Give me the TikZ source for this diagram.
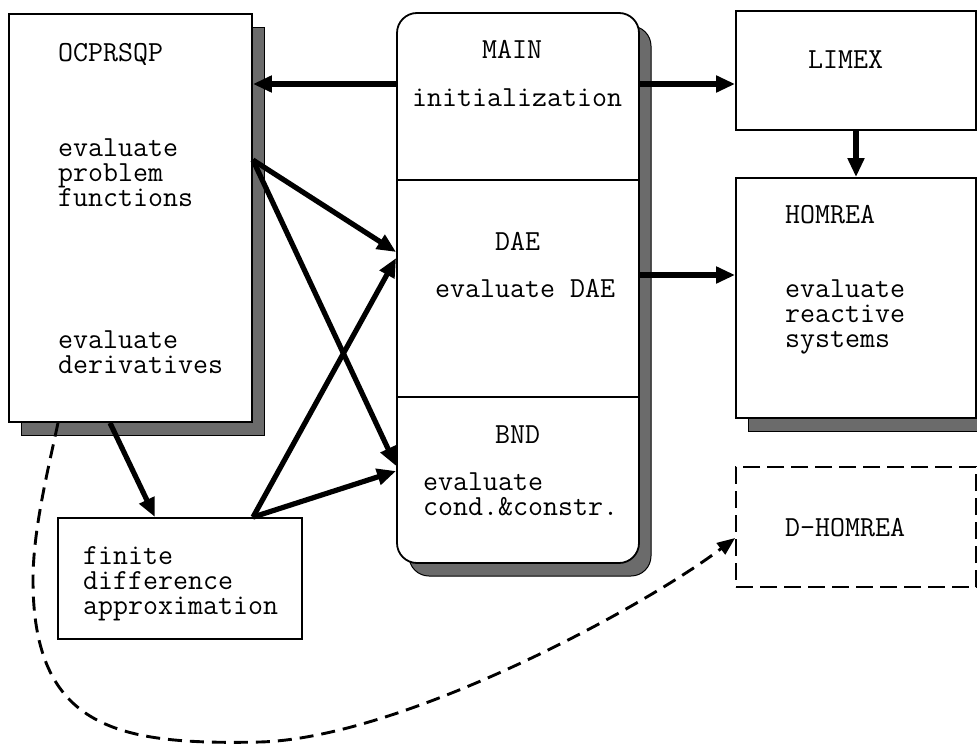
\documentclass[tikz,border=0pt]{standalone}
\usetikzlibrary{arrows.meta,shadows}
\newcommand{\stk}[1]{\vtop{\baselineskip=25pt\lineskiplimit=-100pt\lineskip=0pt #1}}
\begin{document}
\begin{tikzpicture}[x=1pt,y=-1pt,
  box/.style={draw=black,line width=1.8pt,fill=white,inner sep=0pt},
  shbox/.style={box,drop shadow={shadow xshift=12pt,shadow yshift=-13pt,fill=black!58,draw=black,line width=1pt,opacity=1}},
  lbl/.style={anchor=base west,inner sep=0pt,font=\ttfamily\fontsize{29.1}{25}\selectfont},
  arr/.style={line width=5.2pt,-{Triangle[length=19pt,width=16pt]}},
  darr/.style={line width=2.9pt,dash pattern=on 14pt off 8pt,-{Triangle[length=18pt,width=14pt]}},
  dbox/.style={draw=black,line width=1.7pt,dash pattern=on 17pt off 7pt,fill=white,inner sep=0pt},
]
\useasboundingbox (0,0) rectangle (977,744);

% boxes
\node[shbox,minimum width=243pt,minimum height=408pt] (ocp) at (130.5,218) {};
\node[shbox,rounded corners=20pt,minimum width=242pt,minimum height=550pt] (main) at (518,288) {};
\node[box,minimum width=240pt,minimum height=119pt] (limex) at (856,70.5) {};
\node[shbox,minimum width=240pt,minimum height=240pt] (homrea) at (856,298) {};
\node[dbox,minimum width=240pt,minimum height=120pt] (dhom) at (856,527) {};
\node[box,minimum width=244pt,minimum height=121pt] (fd) at (180,578.5) {};

% helper coordinates
\coordinate (h180) at (0,180);
\coordinate (h397) at (0,397);
\coordinate (h84) at (0,84);
\coordinate (h275) at (0,275);
\coordinate (h160) at (0,160);
\coordinate (h252) at (0,252);
\coordinate (h258) at (0,258);
\coordinate (h466) at (0,466);
\coordinate (h471) at (0,471);
\coordinate (h538) at (0,538);
\coordinate (v58) at (58,0);
\coordinate (v110) at (110,0);
\coordinate (v155) at (155,0);
\coordinate (v253) at (253,0);

% dividers in MAIN
\draw[line width=1.5pt] (main.west |- h180) -- (main.east |- h180);
\draw[line width=1.5pt] (main.west |- h397) -- (main.east |- h397);

% texts
\node[lbl] (t1) at (58,61) {OCPRSQP};
\node[lbl] (t2) at (58,156) {\stk{\hbox{evaluate}\hbox{problem}\hbox{functions}}};
\node[lbl] (t5) at (58,348) {\stk{\hbox{evaluate}\hbox{derivatives}}};

\node[lbl] (m1) at (482,58) {MAIN};
\node[lbl] (m2) at (412,106) {initialization};
\node[lbl] (m3) at (495,250) {DAE};
\node[lbl] (m4) at (435,297) {evaluate DAE};
\node[lbl] (m5) at (495,443) {BND};
\node[lbl] (m6) at (423,490) {\stk{\hbox{evaluate}\hbox{cond.\&constr.}}};

\node[lbl] (l1) at (808,68) {LIMEX};
\node[lbl] (r1) at (785,223) {HOMREA};
\node[lbl] (r2) at (785,297) {\stk{\hbox{evaluate}\hbox{reactive}\hbox{systems}}};
\node[lbl] (d1) at (785,536) {D-HOMREA};

\node[lbl] (f1) at (83,564) {\stk{\hbox{finite}\hbox{difference}\hbox{approximation}}};

% connectors
\draw[arr] (main.west |- h84) -- (ocp.east |- h84);
\draw[arr] (main.east |- h84) -- (limex.west |- h84);
\draw[arr] (main.east |- h275) -- (homrea.west |- h275);
\draw[arr] (limex.south) -- (homrea.north);
\draw[arr] (ocp.east |- h160) -- (main.west |- h252);
\draw[arr] (ocp.east |- h160) -- (main.west |- h466);
\draw[arr] (ocp.south -| v110) -- (fd.north -| v155);
\draw[arr] (fd.north -| v253) -- (main.west |- h258);
\draw[arr] (fd.north -| v253) -- (main.west |- h471);

\draw[darr] (ocp.south -| v58) .. controls (48,470) and (33,530) .. (33,580)
  .. controls (33,730) and (120,745) .. (260,742)
  .. controls (400,738) and (640,610) .. (dhom.west |- h538);
\end{tikzpicture}
\end{document}
